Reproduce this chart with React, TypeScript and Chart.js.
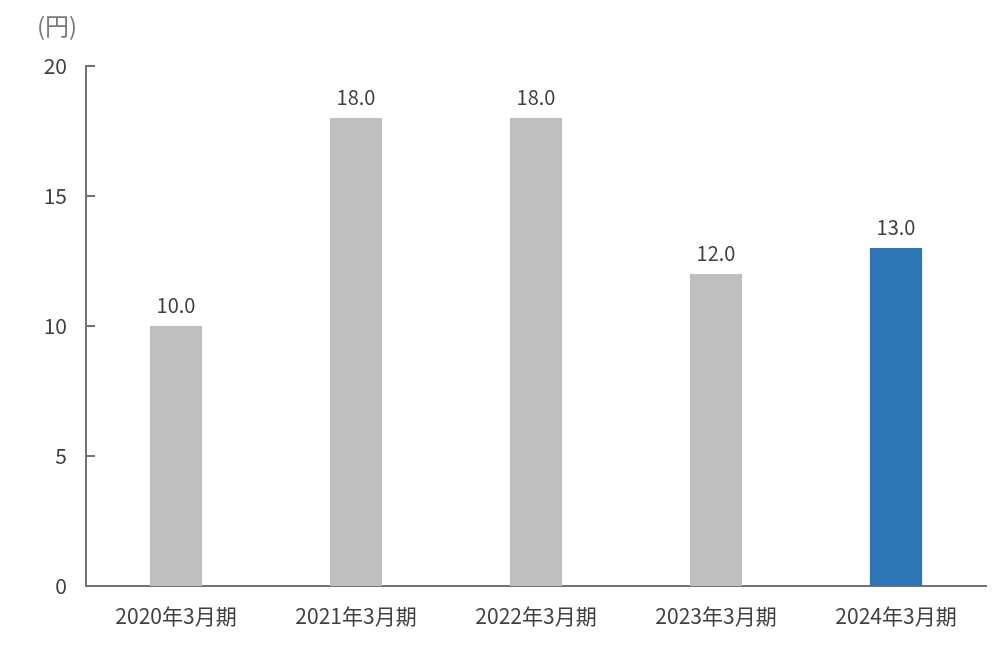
import React, { useEffect, useRef } from "react";
import { Chart, registerables } from "chart.js";

Chart.register(...registerables);

const categories = ["2020年3月期", "2021年3月期", "2022年3月期", "2023年3月期", "2024年3月期"];
const dividends = [10.0, 18.0, 18.0, 12.0, 13.0];
const barColors = ["#BFBFBF", "#BFBFBF", "#BFBFBF", "#BFBFBF", "#2E75B6"];
const yTicks = [0, 5, 10, 15, 20];
const unitLabel = "(円)";

const FONT = "'Noto Sans CJK JP', 'Noto Sans', sans-serif";
const AXIS_COLOR = "#767171";
const TEXT_COLOR = "#404040";

const overlayPlugin = {
  id: "overlay",
  afterDatasetsDraw(chart: any) {
    const { ctx, chartArea } = chart;
    const yScale = chart.scales.y;
    ctx.save();
    // inner tick marks on y axis
    ctx.strokeStyle = AXIS_COLOR;
    ctx.lineWidth = 2;
    yTicks.forEach((v) => {
      const y = Math.round(yScale.getPixelForValue(v));
      ctx.beginPath();
      ctx.moveTo(chartArea.left, y);
      ctx.lineTo(chartArea.left + 9, y);
      ctx.stroke();
    });
    // data labels
    const meta = chart.getDatasetMeta(0);
    ctx.fillStyle = TEXT_COLOR;
    ctx.font = `20px ${FONT}`;
    ctx.textAlign = "center";
    ctx.textBaseline = "middle";
    meta.data.forEach((bar: any, i: number) => {
      ctx.fillText(dividends[i].toFixed(1), bar.x, bar.y - 21);
    });
    // unit label
    ctx.fillStyle = "#7A7A7A";
    ctx.font = `24px ${FONT}`;
    ctx.textAlign = "center";
    ctx.fillText(unitLabel, 57, 26);
    ctx.restore();
  },
};

export default function App() {
  const ref = useRef<HTMLCanvasElement>(null);
  useEffect(() => {
    if (!ref.current) return;
    const chart = new Chart(ref.current, {
      type: "bar",
      data: {
        labels: categories,
        datasets: [
          {
            data: dividends,
            backgroundColor: barColors,
            borderWidth: 0,
            barPercentage: 0.29,
            categoryPercentage: 1,
          },
        ],
      },
      options: {
        responsive: false,
        animation: false,
        devicePixelRatio: 1,
        layout: { padding: { top: 66, right: 16, bottom: 0, left: 0 } },
        plugins: { legend: { display: false }, tooltip: { enabled: false } },
        scales: {
          x: {
            grid: { display: false, drawTicks: false },
            border: { display: true, color: AXIS_COLOR, width: 2 },
            ticks: { color: TEXT_COLOR, font: { family: FONT, size: 21 }, padding: 17, maxRotation: 0 },
            afterFit: (s: any) => { s.height = 74; },
          },
          y: {
            min: 0,
            max: 20,
            grid: { display: false, drawTicks: false },
            border: { display: true, color: AXIS_COLOR, width: 2 },
            ticks: { stepSize: 5, color: TEXT_COLOR, font: { family: FONT, size: 21 }, padding: 19 },
            afterFit: (s: any) => { s.width = 86; },
          },
        },
      },
      plugins: [overlayPlugin],
    });
    return () => chart.destroy();
  }, []);
  return (
    <div style={{ position: "fixed", left: 0, top: 0, width: 1002, height: 660, background: "#fff" }}>
      <canvas ref={ref} width={1002} height={660} style={{ width: 1002, height: 660 }} />
    </div>
  );
}
